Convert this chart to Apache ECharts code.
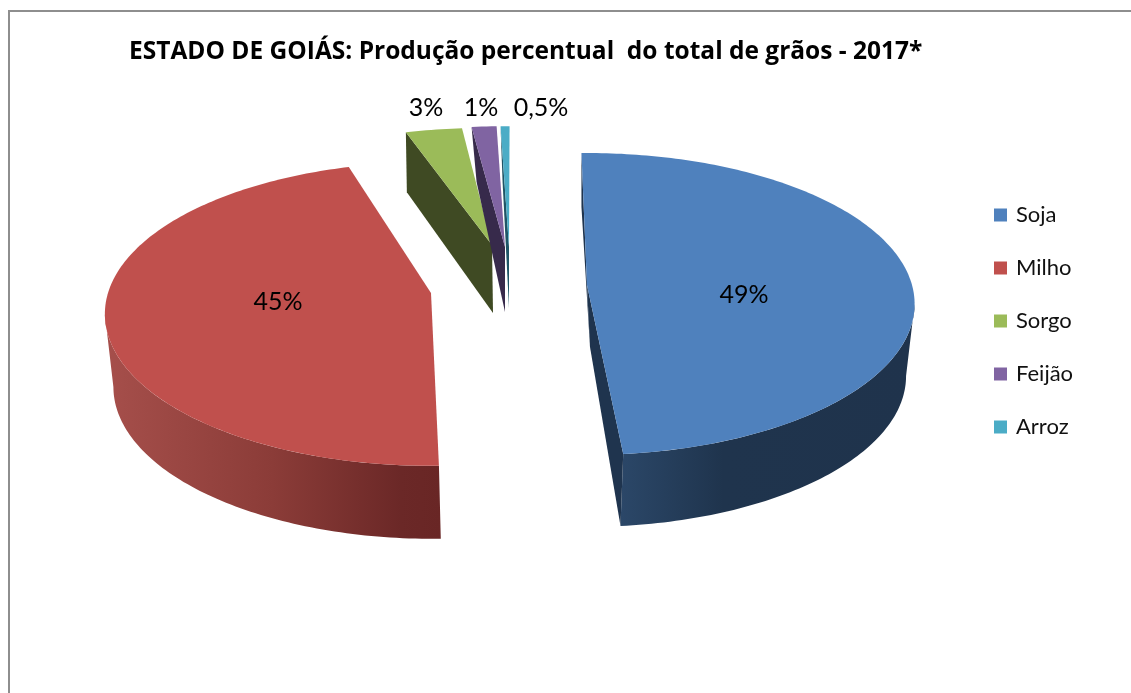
<!DOCTYPE html>
<html><head><meta charset="utf-8">
<style>html,body{margin:0;padding:0;background:#fff}#c{width:1131px;height:693px}</style>
<script src="https://cdn.jsdelivr.net/npm/echarts@6/dist/echarts.min.js"></script>
</head><body><div id="c"></div>
<script>
const categories = ['Soja','Milho','Sorgo','Feijão','Arroz'];
const values = [49,45,3,1,0.5];
const valueLabels = ['49%','45%','3%','1%','0,5%'];
const colors = ['#4f81bd','#c0504d','#9bbb59','#8064a2','#4bacc6'];
const cutColors = ['#1f344e','#6b2827','#3f4a23','#372a4b','#1f5566'];
const titleText = 'ESTADO DE GOIÁS: Produção percentual  do total de grãos - 2017*';
const FONT = 'Lato, "Open Sans", sans-serif';

// projection of each exploded slice (a tilted disc seen in perspective)
const layout = [
 {ax:587,ay:285,rx:325,ry:148.6,p:.126,turn:-1.1,stretch:.98,k:.98,wallDy:72,wallDx:-2,cutBack:[0,54],cutApex:[3,62],cutFront:true,
  wall:[[0,'#2b4768'],[.35,'#1f344d'],[1,'#1f334c']],lx:744,ly:295},
 {ax:431,ay:293,rx:323,ry:149,p:.138,turn:-.3,stretch:1,k:.98,wallDy:73,wallDx:2,cutBack:null,cutApex:null,cutFront:false,
  wall:[[0,'#a64f4b'],[.5,'#8b3c38'],[.88,'#6b2827'],[1,'#692625']],lx:278,ly:302},
 {ax:492,ay:245,rx:335,ry:132,p:.126,turn:-.3,stretch:1,cutBack:[1,60],cutApex:[1,68],lx:426,ly:108},
 {ax:505,ay:247,rx:335,ry:136,p:.126,turn:-.96,stretch:1.32,cutBack:[5,55],cutApex:[0,65],lx:481,ly:108},
 {ax:509,ay:247,rx:335,ry:136,p:.126,turn:.2,stretch:.95,cutBack:[2,55],cutApex:[0,61],lx:541,ly:108}
];

const total = values.reduce((a,b)=>a+b,0);
const starts = values.map((_,i)=>values.slice(0,i).reduce((a,b)=>a+b,0)/total*360);

function makeRender(i){
  return function(params, api){
    const L = layout[i];
    const sweep = api.value(0)/total*360*L.stretch;
    const t0 = starts[i]+L.turn, t1 = t0+sweep;
    const pt = deg=>{
      const r=deg*Math.PI/180, X=Math.sin(r), Z=Math.cos(r), d=1+L.p*Z;
      return [L.ax+L.rx*X/d, L.ay-L.ry*Z/d];
    };
    const arc=(a,b)=>{
      const n=Math.max(2,Math.ceil(Math.abs(b-a))), out=[];
      for(let j=0;j<=n;j++) out.push(pt(a+(b-a)*j/n));
      return out;
    };
    const children=[];
    // outer wall: only the rim between the silhouette points of the disc
    const sil=Math.acos(-L.p)*180/Math.PI;
    const w0=Math.max(t0,sil), w1=Math.min(t1,360-sil);
    if(L.wall && w1>w0){
      const top=arc(w0,w1);
      const bottom=top.map(q=>[L.ax+(q[0]-L.ax)*L.k+L.wallDx,q[1]+L.wallDy]).reverse();
      children.push({type:'polygon',shape:{points:top.concat(bottom)},
        style:{fill:new echarts.graphic.LinearGradient(0,0,1,0,L.wall.map(s=>({offset:s[0],color:s[1]})))}});
    }
    // cut faces
    const apex=[L.ax,L.ay];
    if(L.cutBack){
      const b=pt(t0);
      const apexB=[L.ax+L.cutApex[0],L.ay+L.cutApex[1]];
      children.push({type:'polygon',shape:{points:[b,[b[0]+L.cutBack[0],b[1]+L.cutBack[1]],apexB,apex]},style:{fill:cutColors[i]}});
      if(L.cutFront){
        const f=pt(t1);
        children.push({type:'polygon',shape:{points:[apex,apexB,[L.ax+(f[0]-L.ax)*L.k+L.wallDx,f[1]+L.wallDy],f]},style:{fill:cutColors[i]}});
      }
    }
    // top face
    children.push({type:'polygon',shape:{points:[apex].concat(arc(t0,t1))},style:{fill:colors[i]}});
    // value label
    children.push({type:'text',z2:10,style:{x:L.lx,y:L.ly,text:valueLabels[i],fill:'#000',font:'25px '+FONT,textAlign:'center',textVerticalAlign:'middle'}});
    return {type:'group',children};
  };
}

const chart = echarts.init(document.getElementById('c'),null,{renderer:'canvas'});
chart.setOption({
  animation:false,
  backgroundColor:'#fff',
  title:{text:titleText,left:124,top:35,textStyle:{fontFamily:'"Open Sans", Lato, sans-serif',fontWeight:'bold',fontSize:24.5,color:'#000'}},
  legend:{orient:'vertical',left:989,top:199,itemWidth:13,itemHeight:13,itemGap:31,icon:'rect',
    data:categories,textStyle:{fontFamily:FONT,fontSize:22,color:'#111',padding:[0,0,0,4]}},
  graphic:[{type:'rect',silent:true,z:-1,shape:{x:9,y:11,width:1300,height:900},style:{fill:'none',stroke:'#8e8e8e',lineWidth:2}}],
  series:categories.map((name,i)=>({
    name,type:'custom',coordinateSystem:'none',z:2+i,
    itemStyle:{color:colors[i]},
    renderItem:makeRender(i),
    data:[[values[i]]]
  }))
});
</script></body></html>
